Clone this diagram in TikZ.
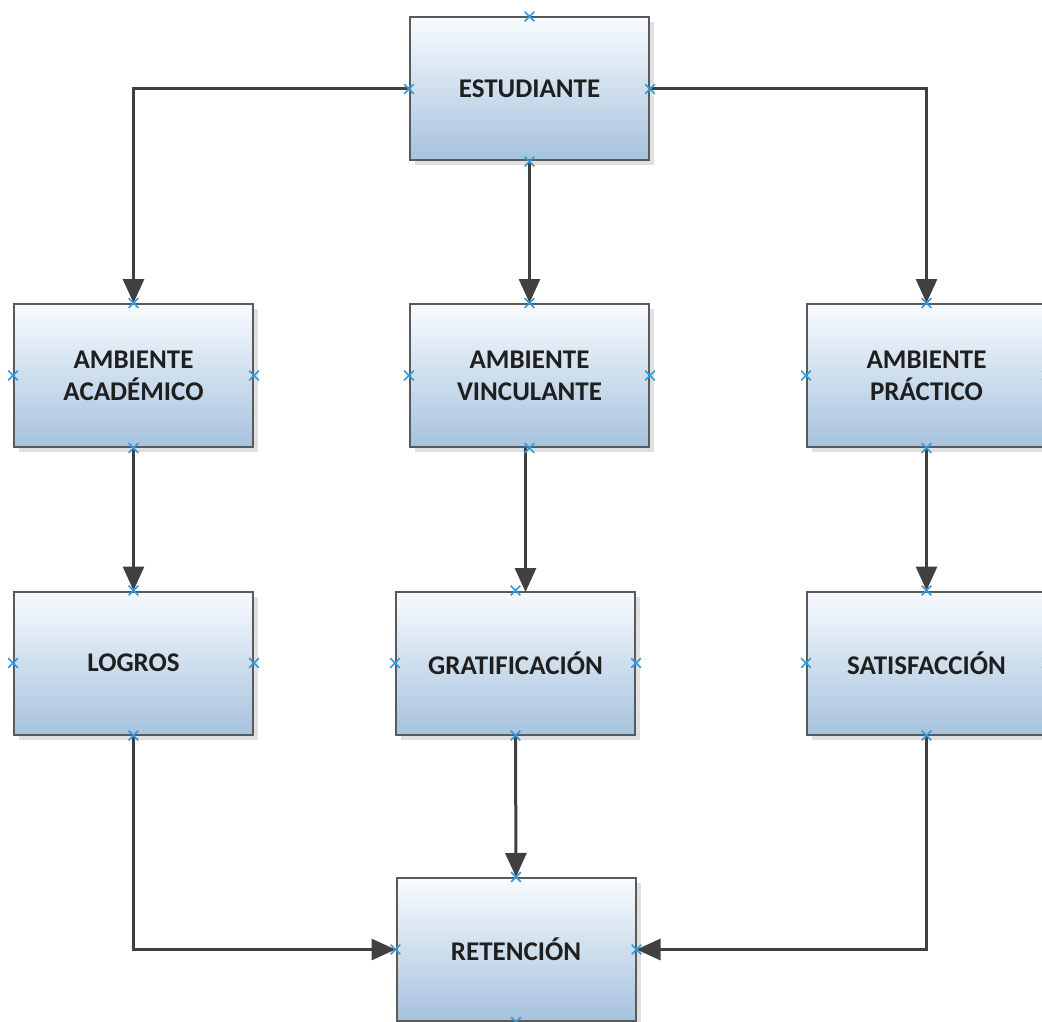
\documentclass[tikz,border=0pt]{standalone}
\usepackage{fontspec}
\setmainfont{Carlito}
\usetikzlibrary{shadows, shapes.misc, arrows.meta, positioning}
\definecolor{boxtop}{HTML}{F8FBFE}
\definecolor{boxbot}{HTML}{A6C2DD}
\definecolor{linegray}{HTML}{404040}
\definecolor{framegray}{HTML}{5A5A5A}
\definecolor{markblue}{HTML}{3399DD}

\begin{document}
\begin{tikzpicture}[x=1pt, y=-1pt,
	box/.style={draw=framegray, line width=2pt, top color=boxtop, bottom color=boxbot,
		minimum width=239pt, minimum height=143pt, inner sep=0pt, align=center,
		font=\fontsize{27}{32}\selectfont\bfseries, text=black!88,
		drop shadow={shadow xshift=5pt, shadow yshift=-5pt, fill=black!12, opacity=1}},
	flow/.style={-{Triangle[length=24pt, width=21pt]}, line width=3pt, draw=linegray},
	xmark/.style={cross out, draw=markblue, line width=1.6pt, minimum size=8pt, inner sep=0pt}]
		\useasboundingbox (0,0) rectangle (1042,1022);
		
		% Draw the boxes
		\node[box] (est) at (529.5, 89) {ESTUDIANTE};
		
		\node[box] (acad) at (133.5, 375.5) {AMBIENTE\\ACADÉMICO};
		\node[box] (vinc) at (529.5, 375.5) {AMBIENTE\\VINCULANTE};
		\node[box] (prac) at (926.5, 375.5) {AMBIENTE\\PRÁCTICO};
		
		\node[box] (logr) at (133.5, 663) {LOGROS};
		\node[box] (grat) at (515.5, 663) {GRATIFICACIÓN};
		\node[box] (sat) at (926.5, 663) {SATISFACCIÓN};
		
		\node[box] (ret) at (516, 949.5) {RETENCIÓN};
		
		% Draw the arrows
		\draw[flow] (est.west) -| (acad.north);
		\draw[flow] (est.south) -- (vinc.north);
		\draw[flow] (est.east) -| (prac.north);
		
		\draw[flow] (acad.south) -- (logr.north);
		\draw[flow] (vinc.south) ++(-4,0) -- ++(0,144);
		\draw[flow] (prac.south) -- (sat.north);
		
		\draw[flow] (logr.south) |- (ret.west);
		\draw[flow] (grat.south) -- (ret.north);
		\draw[flow] (sat.south) |- (ret.east);
		
		% Connection points
		\foreach \n in {est, acad, vinc, prac, logr, grat, sat, ret}
			\foreach \a in {north, south, east, west}
				\node[xmark] at (\n.\a) {};
\end{tikzpicture}
\end{document}
